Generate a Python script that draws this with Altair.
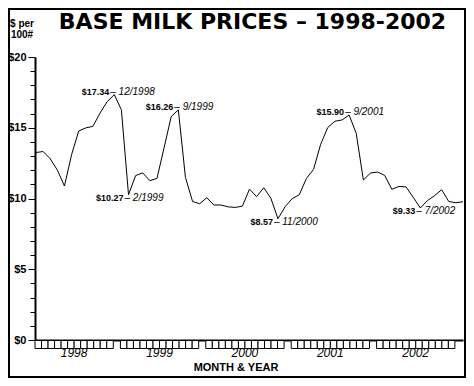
import altair as alt
import pandas as pd

# ---------------- data ----------------
years = [1998, 1999, 2000, 2001, 2002]
month_labels = [f"{m}/{y}" for y in years for m in range(1, 13)] + ["1/2003"]

prices = [
    13.25, 13.32, 12.81, 12.01, 10.88, 13.10, 14.77, 14.99, 15.10, 16.04, 16.84, 17.34,
    16.27, 10.27, 11.62, 11.81, 11.26, 11.42, 13.59, 15.79, 16.26, 11.49, 9.79, 9.63,
    10.05, 9.54, 9.54, 9.41, 9.37, 9.46, 10.66, 10.13, 10.76, 10.02, 8.57, 9.42,
    9.99, 10.27, 11.42, 12.06, 13.83, 15.02, 15.46, 15.55, 15.90, 14.60, 11.31, 11.80,
    11.87, 11.63, 10.65, 10.85, 10.82, 10.09, 9.33, 9.85, 10.20, 10.62, 9.79, 9.70,
    9.77,
]

ann_dates = ["12/1998", "2/1999", "9/1999", "11/2000", "9/2001", "7/2002"]
ann_values = ["$17.34", "$10.27", "$16.26", "$8.57", "$15.90", "$9.33"]
ann_kind = ["peak", "low", "peak", "low", "peak", "low"]

y_ticks = list(range(0, 21))

# ---------------- tables ----------------
line_df = pd.DataFrame({"idx": list(range(len(prices))), "price": prices, "month": month_labels})

ann_idx = [month_labels.index(d) for d in ann_dates]
ann_df = pd.DataFrame({
    "idx": ann_idx,
    "price": [prices[i] for i in ann_idx],
    "val": ann_values,
    "date": ["\u2013 " + d for d in ann_dates],
    "kind": ann_kind,
})

box_rows = []
for k, yr in enumerate(years):
    for j in range(12):
        x0 = 12 * k + j * 11 / 12 - 0.14
        box_rows.append({"idx": x0, "idx2": x0 + 11 / 12})
box_df = pd.DataFrame(box_rows)
year_df = pd.DataFrame({"idx": [12 * k + 5.35 for k in range(len(years))], "year": [str(y) for y in years]})

W, H = 428, 283
FONT = "Liberation Sans"

xscale = alt.Scale(domain=[-0.14, 60], nice=False, zero=False)
yscale = alt.Scale(domain=[0, 20], nice=False, zero=True)

xaxis = alt.Axis(title=None, labels=False, ticks=False, grid=False,
                 domainColor="black", domainWidth=2)
yaxis = alt.Axis(
    title=None, grid=False, values=y_ticks,
    labelExpr="datum.value % 5 === 0 ? '$' + datum.value : ''",
    labelFont=FONT, labelFontWeight="bold", labelFontSize=11, labelColor="black",
    labelPadding=2,
    tickColor="black", tickWidth=1,
    tickSize={"condition": {"test": "datum.value % 5 === 0", "value": 7}, "value": 5},
    domainColor="black", domainWidth=2)

X = alt.X("idx:Q", scale=xscale, axis=xaxis)
Y = alt.Y("price:Q", scale=yscale, axis=yaxis)

line = alt.Chart(line_df).mark_line(color="black", strokeWidth=1).encode(x=X, y=Y)

boxes = alt.Chart(box_df).mark_rect(fill="white", stroke="black", strokeWidth=1).encode(
    x=X,
    x2="idx2:Q",
    y=alt.value(H + 0.5),
    y2=alt.value(H + 8.5),
)

year_text = alt.Chart(year_df).mark_text(
    font=FONT, fontSize=12, fontStyle="italic", baseline="middle", align="center", color="black"
).encode(x=X, y=alt.value(H + 13), text="year:N")

ann_layers = []
for kind, dy in [("peak", -3), ("low", 3)]:
    sub = ann_df[ann_df["kind"] == kind]
    v = alt.Chart(sub).mark_text(
        font=FONT, fontSize=9, fontWeight="bold", align="right", baseline="middle",
        dx=-5, dy=dy, color="black"
    ).encode(x=X, y=Y, text="val:N")
    d = alt.Chart(sub).mark_text(
        font=FONT, fontSize=10, fontStyle="italic", align="left", baseline="middle",
        dx=-4, dy=dy, color="black"
    ).encode(x=X, y=Y, text="date:N")
    ann_layers += [v, d]

one = pd.DataFrame({"t": ["x"]})

title = alt.Chart(one).mark_text(
    font="DejaVu Sans", fontSize=22, fontWeight="bold", align="center",
    baseline="alphabetic", color="black"
).encode(x=alt.value(217.5), y=alt.value(-28), text=alt.value("BASE MILK PRICES  \u2013  1998-2002"))

ylab1 = alt.Chart(one).mark_text(
    font=FONT, fontSize=10, fontWeight="bold", align="center", baseline="middle", color="black"
).encode(x=alt.value(-13), y=alt.value(-33), text=alt.value("$ per"))

ylab2 = alt.Chart(one).mark_text(
    font=FONT, fontSize=10, fontWeight="bold", align="center", baseline="middle", color="black"
).encode(x=alt.value(-13), y=alt.value(-22), text=alt.value("100#"))

xtitle = alt.Chart(one).mark_text(
    font=FONT, fontSize=11, fontWeight="bold", align="center", baseline="middle", color="black"
).encode(x=alt.value(201), y=alt.value(H + 28), text=alt.value("MONTH & YEAR"))

border = alt.Chart(one).mark_rect(fill=None, stroke="black", strokeWidth=2).encode(
    x=alt.value(-26), x2=alt.value(430), y=alt.value(-48), y2=alt.value(320)
)

chart = alt.layer(
    line, boxes, year_text, *ann_layers, title, ylab1, ylab2, xtitle, border
).properties(
    width=W, height=H,
    padding={"left": 27, "top": 49, "right": 3, "bottom": 38},
    autosize=alt.AutoSizeParams(type="none"),
    background="white",
).configure_view(stroke=None)

chart.save("out.html", embed_options={"renderer": "svg", "actions": False})
